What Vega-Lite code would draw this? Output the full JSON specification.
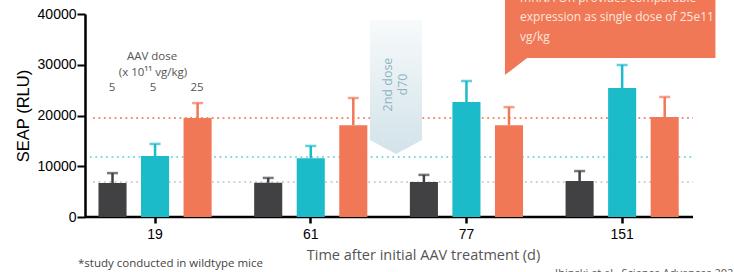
{
  "$schema": "https://vega.github.io/schema/vega-lite/v6.json",
  "width": 608,
  "height": 203,
  "autosize": "none",
  "padding": {"left": 85, "top": 14, "right": 41, "bottom": 55},
  "background": "white",
  "config": {"view": {"stroke": null}, "font": "Open Sans"},
  "layer": [
    {
      "layer": [
        {
          "data": {"values": [
            {"p": 0.602, "p2": 4.456, "v": 19500, "g": "25"},
            {"p": 0.582, "p2": 4.456, "v": 11800, "g": "5b"},
            {"p": 0.602, "p2": 4.456, "v": 6900, "g": "5a"}
          ]},
          "mark": {"type": "rule", "strokeWidth": 2, "strokeDash": [1.8, 3.6]},
          "encoding": {
            "x": {"field": "p", "type": "quantitative", "scale": {"domain": [0.5503, 4.456], "nice": false, "zero": false}, "axis": null},
            "x2": {"field": "p2"},
            "y": {"field": "v", "type": "quantitative", "scale": {"domain": [0, 40000], "nice": false}},
            "color": {"field": "g", "type": "nominal", "scale": {"domain": ["5a", "5b", "25"], "range": ["#414042", "#1cbbc9", "#f17857"]}, "legend": null},
            "opacity": {"field": "g", "type": "nominal", "scale": {"domain": ["5a", "5b", "25"], "range": [0.25, 0.85, 0.8]}, "legend": null}
          }
        },
        {
          "data": {"values": [{"p": 0.5503, "p2": 4.456, "v": 0}]},
          "mark": {"type": "rule", "strokeWidth": 2.5, "color": "black"},
          "encoding": {
            "x": {"field": "p", "type": "quantitative", "scale": {"domain": [0.5503, 4.456], "nice": false, "zero": false}, "axis": null},
            "x2": {"field": "p2"},
            "y": {"field": "v", "type": "quantitative", "scale": {"domain": [0, 40000], "nice": false}}
          }
        },
        {
          "data": {"values": [
            {"p": 2.381, "lo": 15172, "hi": 38818},
            {"p": 2.548, "lo": 12414, "hi": 38818},
            {"p": 2.715, "lo": 15172, "hi": 38818}
          ]},
          "mark": {"type": "area", "color": {"gradient": "linear", "x1": 0, "y1": 0, "x2": 0, "y2": 1, "stops": [{"offset": 0, "color": "#f7fafb"}, {"offset": 1, "color": "#d2e3e9"}]}},
          "encoding": {
            "x": {"field": "p", "type": "quantitative", "scale": {"domain": [0.5503, 4.456], "nice": false, "zero": false}, "axis": null},
            "y": {"field": "lo", "type": "quantitative", "scale": {"domain": [0, 40000], "nice": false}},
            "y2": {"field": "hi"}
          }
        },
        {
          "data": {"values": [
            {"p": 2.497, "v": 26100, "t": "2nd dose"},
            {"p": 2.593, "v": 26100, "t": "d70"}
          ]},
          "mark": {"type": "text", "angle": 270, "align": "center", "baseline": "middle", "fontSize": 12.5, "color": "#8db4c2", "font": "Open Sans"},
          "encoding": {
            "x": {"field": "p", "type": "quantitative", "scale": {"domain": [0.5503, 4.456], "nice": false, "zero": false}, "axis": null},
            "y": {"field": "v", "type": "quantitative", "scale": {"domain": [0, 40000], "nice": false}},
            "text": {"field": "t"}
          }
        },
        {
          "data": {"values": [
            {"p": 0.981, "v": 31527, "t": "AAV dose"},
            {"p": 0.987, "v": 28374, "t": "(x 10¹¹ vg/kg)"},
            {"p": 0.724, "v": 25419, "t": "5"},
            {"p": 0.987, "v": 25419, "t": "5"},
            {"p": 1.27, "v": 25419, "t": "25"}
          ]},
          "mark": {"type": "text", "align": "center", "baseline": "middle", "fontSize": 11.5, "color": "#555555", "font": "Open Sans"},
          "encoding": {
            "x": {"field": "p", "type": "quantitative", "scale": {"domain": [0.5503, 4.456], "nice": false, "zero": false}, "axis": null},
            "y": {"field": "v", "type": "quantitative", "scale": {"domain": [0, 40000], "nice": false}},
            "text": {"field": "t"}
          }
        },
        {
          "data": {"values": [
            {"p": 3.248, "lo": 27980, "hi": 44700},
            {"p": 3.39, "lo": 31330, "hi": 44700},
            {"p": 4.6, "lo": 31330, "hi": 44700}
          ]},
          "mark": {"type": "area", "color": "#f17857"},
          "encoding": {
            "x": {"field": "p", "type": "quantitative", "scale": {"domain": [0.5503, 4.456], "nice": false, "zero": false}, "axis": null},
            "y": {"field": "lo", "type": "quantitative", "scale": {"domain": [0, 40000], "nice": false}},
            "y2": {"field": "hi"}
          }
        },
        {
          "data": {"values": [
            {"p": 3.345, "v": 43153, "t": "mRNA OR provides comparable"},
            {"p": 3.345, "v": 39409, "t": "expression as single dose of 25e11"},
            {"p": 3.345, "v": 35468, "t": "vg/kg"}
          ]},
          "mark": {"type": "text", "align": "left", "baseline": "middle", "fontSize": 12, "color": "#fde6dd", "font": "Open Sans"},
          "encoding": {
            "x": {"field": "p", "type": "quantitative", "scale": {"domain": [0.5503, 4.456], "nice": false, "zero": false}, "axis": null},
            "y": {"field": "v", "type": "quantitative", "scale": {"domain": [0, 40000], "nice": false}},
            "text": {"field": "t"}
          }
        },
        {
          "data": {"values": [
            {"p": 0.5054, "v": -9852, "t": "*study conducted in wildtype mice"}
          ]},
          "mark": {"type": "text", "align": "left", "baseline": "alphabetic", "fontSize": 11.5, "color": "#444444", "font": "Open Sans"},
          "encoding": {
            "x": {"field": "p", "type": "quantitative", "scale": {"domain": [0.5503, 4.456], "nice": false, "zero": false}, "axis": null},
            "y": {"field": "v", "type": "quantitative", "scale": {"domain": [0, 40000], "nice": false}},
            "text": {"field": "t"}
          }
        },
        {
          "data": {"values": [
            {"p": 3.57, "v": -11823, "t": "Ihinski et al., Science Advances 2021"}
          ]},
          "mark": {"type": "text", "align": "left", "baseline": "alphabetic", "fontSize": 11, "color": "#555555", "font": "Open Sans"},
          "encoding": {
            "x": {"field": "p", "type": "quantitative", "scale": {"domain": [0.5503, 4.456], "nice": false, "zero": false}, "axis": null},
            "y": {"field": "v", "type": "quantitative", "scale": {"domain": [0, 40000], "nice": false}},
            "text": {"field": "t"}
          }
        }
      ]
    },
    {
      "data": {"values": [
        {"t": "19", "g": "5a", "v": 6700, "e": 8650},
        {"t": "19", "g": "5b", "v": 12000, "e": 14400},
        {"t": "19", "g": "25", "v": 19500, "e": 22450},
        {"t": "61", "g": "5a", "v": 6750, "e": 7700},
        {"t": "61", "g": "5b", "v": 11600, "e": 14000},
        {"t": "61", "g": "25", "v": 18100, "e": 23450},
        {"t": "77", "g": "5a", "v": 6900, "e": 8300},
        {"t": "77", "g": "5b", "v": 22650, "e": 26800},
        {"t": "77", "g": "25", "v": 18100, "e": 21650},
        {"t": "151", "g": "5a", "v": 7100, "e": 9050},
        {"t": "151", "g": "5b", "v": 25400, "e": 29950},
        {"t": "151", "g": "25", "v": 19700, "e": 23650}
      ]},
      "encoding": {
        "x": {
          "field": "t", "type": "nominal", "sort": ["19", "61", "77", "151"],
          "scale": {"range": [-7.8, 615], "paddingInner": 0, "paddingOuter": 0},
          "axis": {
            "domain": false, "tickSize": 6, "tickWidth": 2.5, "tickColor": "black",
            "labelFont": "Liberation Sans", "labelFontSize": 14, "labelColor": "black", "labelAngle": 0, "labelPadding": 4,
            "title": "Time after initial AAV treatment (d)", "titleFont": "Open Sans", "titleFontSize": 14.5, "titleFontWeight": "normal", "titleColor": "#555555",
            "titleX": 338, "titleY": 38, "titleAlign": "center", "titleBaseline": "middle"
          }
        },
        "xOffset": {"field": "g", "type": "nominal", "sort": ["5a", "5b", "25"], "scale": {"paddingInner": 0.34, "paddingOuter": 0.5}},
        "color": {"field": "g", "type": "nominal", "scale": {"domain": ["5a", "5b", "25"], "range": ["#414042", "#1cbbc9", "#f17857"]}, "legend": null}
      },
      "layer": [
        {
          "mark": {"type": "bar"},
          "encoding": {
            "y": {
              "field": "v", "type": "quantitative", "scale": {"domain": [0, 40000], "nice": false},
              "axis": {
                "title": "SEAP (RLU)", "values": [0, 10000, 20000, 30000, 40000], "format": "d", "grid": false,
                "domainWidth": 2.5, "domainColor": "black", "tickColor": "black", "tickWidth": 2, "tickSize": 8,
                "labelFont": "Liberation Sans", "labelFontSize": 14, "labelColor": "black", "labelPadding": 1, "labelFlush": false,
                "titleFont": "Liberation Sans", "titleFontSize": 16.5, "titleFontWeight": "normal", "titleColor": "black",
                "titleX": -61.5, "titleY": 101.5, "titleAngle": 270, "titleAlign": "center", "titleBaseline": "middle"
              }
            }
          }
        },
        {
          "mark": {"type": "rule", "strokeWidth": 2.5},
          "encoding": {
            "y": {"field": "v", "type": "quantitative"},
            "y2": {"field": "e"}
          }
        },
        {
          "mark": {"type": "tick", "thickness": 2.5, "orient": "horizontal"},
          "encoding": {
            "y": {"field": "e", "type": "quantitative"},
            "size": {"value": 11}
          }
        }
      ]
    }
  ],
  "resolve": {"scale": {"x": "independent"}, "axis": {"x": "independent"}}
}
